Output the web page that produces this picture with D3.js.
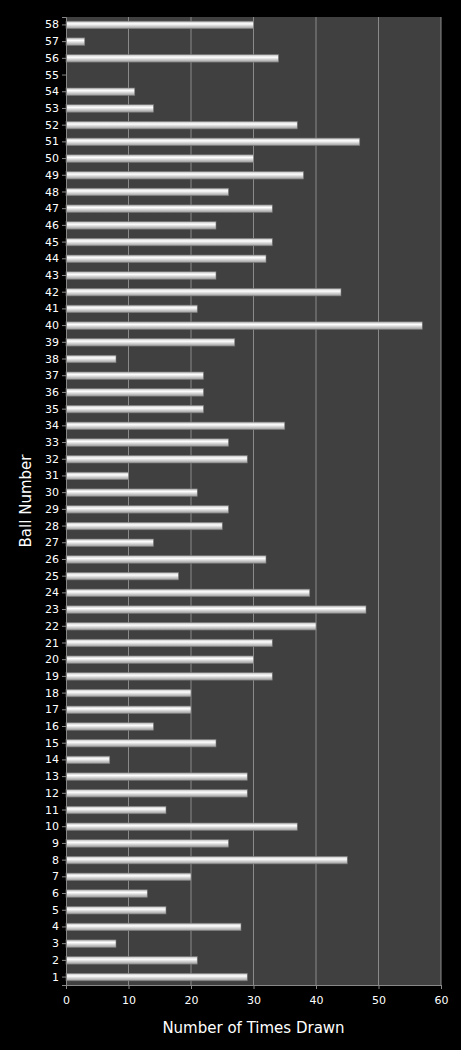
<!DOCTYPE html>
<html><head><meta charset="utf-8">
<script src="https://cdn.jsdelivr.net/npm/d3@7"></script>
<style>body{margin:0;background:#000}text{font-family:"DejaVu Sans",Verdana,sans-serif;fill:#fff}</style>
</head><body><svg id="c"></svg>
<script>
// ball numbers 1..58 and how often each was drawn
var balls = d3.range(1, 59);
var counts = [29,21,8,28,16,13,20,45,26,37,16,29,29,7,24,14,20,20,33,30,
              33,40,48,39,18,32,14,25,26,21,10,29,26,35,22,22,22,8,27,57,
              21,44,24,32,33,24,33,26,38,30,47,37,14,11,0,34,3,30];
var xTicks = [0,10,20,30,40,50,60];

var W = 461, H = 1050, m = {l: 66, r: 20, t: 17, b: 65};
var svg = d3.select('#c').attr('width', W).attr('height', H);
var defs = svg.append('defs');
var g1 = defs.append('linearGradient').attr('id', 'bar').attr('x1', 0).attr('y1', 0).attr('x2', 0).attr('y2', 1);
g1.append('stop').attr('offset', 0).attr('stop-color', '#bbb');
g1.append('stop').attr('offset', 0.35).attr('stop-color', '#fff');
g1.append('stop').attr('offset', 1).attr('stop-color', '#999');

var x = d3.scaleLinear().domain([0, 60]).range([m.l, W - m.r]);
var y = d3.scaleBand().domain(balls.slice().reverse()).range([m.t, H - m.b]).paddingInner(0.55).paddingOuter(0.25);

svg.append('rect').attr('x', m.l).attr('y', m.t).attr('width', x(60) - m.l).attr('height', H - m.b - m.t).attr('fill', '#404040');

svg.append('g').selectAll('line').data(xTicks.slice(1)).enter().append('line')
    .attr('x1', function (d) { return x(d); }).attr('x2', function (d) { return x(d); })
    .attr('y1', m.t).attr('y2', H - m.b).attr('stroke', '#8a8a8a').attr('stroke-width', 1);

svg.append('g').selectAll('rect').data(balls).enter().append('rect')
    .attr('x', x(0)).attr('y', function (d) { return y(d); })
    .attr('width', function (d) { return x(counts[d - 1]) - x(0); })
    .attr('height', y.bandwidth())
    .attr('fill', 'url(#bar)').attr('stroke', '#777').attr('stroke-width', 0.6);

var ax = svg.append('g').attr('transform', 'translate(0,' + (H - m.b) + ')')
    .call(d3.axisBottom(x).tickValues(xTicks).tickSize(4));
var ay = svg.append('g').attr('transform', 'translate(' + m.l + ',0)')
    .call(d3.axisLeft(y).tickSize(4));
[ax, ay].forEach(function (a) {
    a.selectAll('path,line').attr('stroke', '#888');
    a.selectAll('text').attr('fill', '#fff').style('font-size', '11px');
});
ax.selectAll('text').attr('dy', '1.1em');

svg.append('text').attr('x', (m.l + W - m.r) / 2).attr('y', H - 17).attr('text-anchor', 'middle')
    .style('font-size', '15px').text('Number of Times Drawn');
svg.append('text').attr('transform', 'translate(31,' + ((m.t + H - m.b) / 2) + ') rotate(-90)')
    .attr('text-anchor', 'middle').style('font-size', '15px').text('Ball Number');
</script></body></html>
